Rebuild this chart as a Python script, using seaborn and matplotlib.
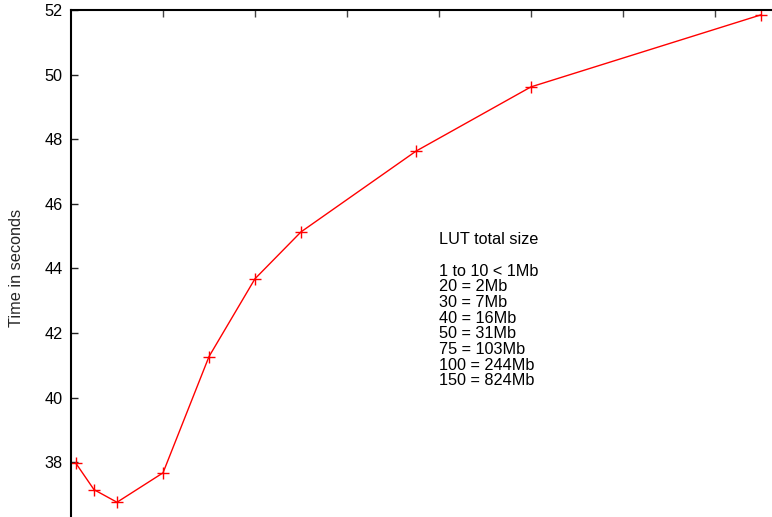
import matplotlib
matplotlib.use("Agg")
import matplotlib.pyplot as plt
import seaborn as sns
import pandas as pd

# LUT size (entries per axis) versus run time
lut_size = [1, 5, 10, 20, 30, 40, 50, 75, 100, 150]
seconds = [37.98, 37.15, 36.76, 37.67, 41.27, 43.68, 45.13, 47.63, 49.62, 51.85]
y_ticks = [38, 40, 42, 44, 46, 48, 50, 52]
x_ticks = [20, 40, 60, 80, 100, 120, 140]

note_lines = [
    "LUT total size",
    "",
    "1 to 10 < 1Mb",
    "20 = 2Mb",
    "30 = 7Mb",
    "40 = 16Mb",
    "50 = 31Mb",
    "75 = 103Mb",
    "100 = 244Mb",
    "150 = 824Mb",
]

FS = 11.7

sns.set_theme(style="white")
plt.rcParams["font.family"] = ["Liberation Sans", "DejaVu Sans"]
plt.rcParams["font.size"] = FS

df = pd.DataFrame({"size": lut_size, "time": seconds})

fig = plt.figure(figsize=(7.72, 5.17), dpi=100)
W, H = 772, 517
left_px, top_px = 71, 10
ax = fig.add_axes([left_px / W, 0, (W - left_px) / W, (H - top_px) / H])

sns.lineplot(data=df, x="size", y="time", ax=ax, color="#ff0000",
             linewidth=1.0, marker="+", markersize=8,
             markeredgewidth=1.0, markeredgecolor="#ff0000")

px_per_unit_x = 4.6
px_per_unit_y = 32.3
ax.set_xlim(0, (W - left_px) / px_per_unit_x)
ax.set_ylim(52 - (H - top_px) / px_per_unit_y, 52)

ax.set_yticks(y_ticks)
ax.set_yticklabels([str(v) for v in y_ticks])
ax.set_xticks(x_ticks)
ax.tick_params(axis="x", which="both", bottom=False, top=True,
               labelbottom=False, labeltop=False, direction="in",
               length=5, width=1, color="#444444")
ax.tick_params(axis="y", which="both", left=True, right=False,
               direction="in", length=5, width=1, color="#222222",
               labelsize=FS, pad=6, labelcolor="black")

for side in ("right", "bottom"):
    ax.spines[side].set_visible(False)
for side in ("left", "top"):
    ax.spines[side].set_visible(True)
    ax.spines[side].set_color("black")
    ax.spines[side].set_linewidth(1.5)

ax.set_xlabel("")
ax.set_ylabel("Time in seconds", fontsize=FS, va="center")
ax.yaxis.set_label_coords(-(left_px - 16) / (W - left_px), (H - 268) / (H - top_px))

ax.text(80.0, 42.70, "\n".join(note_lines), ha="left", va="center",
        fontsize=FS, linespacing=1.055, color="black")

fig.savefig("out.png", dpi=100)
